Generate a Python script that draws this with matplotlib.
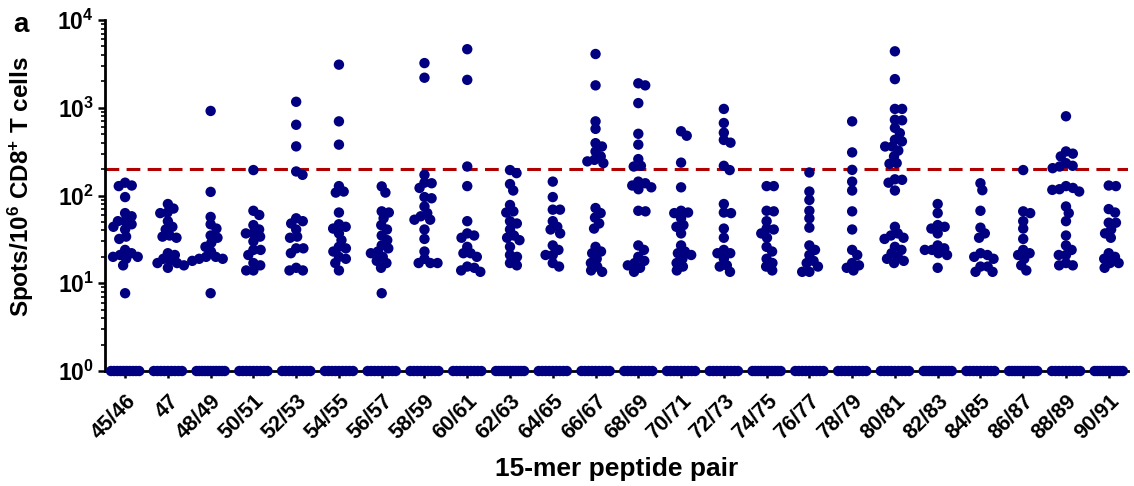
import matplotlib
matplotlib.use('Agg')
import matplotlib.pyplot as plt
import numpy as np

plt.rcParams['font.family'] = ['Liberation Sans', 'DejaVu Sans']
plt.rcParams['font.weight'] = 'bold'
plt.rcParams['mathtext.fontset'] = 'custom'
plt.rcParams['mathtext.rm'] = 'Liberation Sans:bold'
plt.rcParams['mathtext.bf'] = 'Liberation Sans:bold'
plt.rcParams['mathtext.it'] = 'Liberation Sans:bold'

# peptide pairs on the x axis
labels = ['45/46', '47', '48/49', '50/51', '52/53', '54/55', '56/57', '58/59',
          '60/61', '62/63', '64/65', '66/67', '68/69', '70/71', '72/73', '74/75',
          '76/77', '78/79', '80/81', '82/83', '84/85', '86/87', '88/89', '90/91']

# responding samples, spots per 10^6 CD8+ T cells
spots = [
    [140, 130, 128, 96, 63, 58, 51, 51, 47, 44, 41, 34, 32, 24, 22, 21, 20, 20, 19, 16, 7.7],
    [80, 71, 64, 63, 51, 44, 41, 35, 34, 33, 22, 21, 19, 18, 17, 17, 16, 15],
    [920, 110, 57, 47, 42, 35, 33, 29, 26, 23, 20, 20, 19, 19, 18, 7.7],
    [195, 67, 60, 46, 41, 37, 37, 34, 30, 24, 24, 21, 17, 16, 14, 14],
    [1170, 640, 363, 188, 172, 55, 51, 48, 41, 34, 33, 25, 25, 22, 15, 14, 14],
    [3100, 700, 380, 128, 111, 108, 64, 47, 44, 42, 37, 31, 26, 25, 23, 20, 19, 17, 14],
    [127, 108, 66, 64, 55, 46, 41, 35, 31, 27, 25, 23, 22, 20, 18, 17, 15, 7.7],
    [3230, 2200, 172, 140, 138, 122, 96, 93, 75, 63, 58, 53, 53, 41, 32, 23, 19, 17, 17, 17],
    [4650, 2080, 214, 128, 51, 37, 35, 33, 26, 22, 22, 20, 15.5, 15, 14, 13.5],
    [195, 180, 135, 114, 78, 66, 64, 51, 48, 41, 35, 33, 31, 26, 21, 20, 17, 16],
    [144, 96, 69, 69, 51, 44, 41, 37, 27, 24, 21, 21, 17, 15.5],
    [4100, 1800, 700, 575, 395, 362, 318, 279, 255, 245, 234, 72, 63, 56, 48, 42,
     26, 23, 22, 19, 17, 15.5, 14, 13.5],
    [1900, 1800, 1130, 505, 380, 260, 218, 214, 144, 138, 130, 124, 118, 67, 66,
     27, 24, 20, 18, 17, 16, 15, 13.5],
    [540, 480, 237, 124, 67, 64, 63, 55, 46, 44, 37, 27, 23, 22, 21, 19, 17, 15.5, 14],
    [970, 670, 520, 430, 400, 218, 195, 80, 64, 63, 42, 33, 24, 22, 22, 19, 16, 15.5, 13.5],
    [128, 128, 67, 66, 51, 42, 41, 37, 33, 26, 23, 19, 17, 15.5, 14],
    [183, 111, 89, 67, 55, 43, 27, 24, 21, 18, 17, 15.5, 13.5, 13.5],
    [700, 310, 196, 144, 114, 66, 41, 24, 21, 17, 16, 15, 14],
    [4400, 2120, 970, 970, 730, 720, 590, 514, 432, 414, 362, 362, 325, 279, 234, 230,
     153, 151, 140, 114, 44, 37, 35, 33, 32, 26, 24, 22, 20, 19, 18, 17],
    [80, 63, 46, 44, 42, 37, 27, 25, 24, 24, 22, 21, 15],
    [138, 115, 67, 43, 37, 33, 22, 21, 20, 19, 15.5, 15.5, 13.5, 13.5],
    [195, 66, 63, 51, 42, 32, 24, 22, 21, 19, 16, 14],
    [800, 318, 300, 279, 234, 218, 214, 205, 128, 122, 118, 116, 111, 75, 63, 51,
     35, 27, 24, 21, 21, 17, 16, 16],
    [130, 128, 70, 64, 49, 49, 41, 37, 33, 22, 20, 19, 17, 17, 15],
]

# non-responders, drawn on the bottom of the axis (value 1)
n_zero = [10, 9, 11, 9, 9, 9, 9, 9, 9, 11, 9, 9, 9, 9, 9, 11, 9, 9, 9, 11, 9, 11, 9, 11]

cutoff = 200

dot_color = '#000080'
line_color = '#B00000'


def swarm(vals, sx, sy, d=7.2):
    # simple beeswarm in pixel space, returns x offsets in category units
    ys = np.log10(vals) * sy
    order = np.argsort(-ys)
    placed = []
    offs = np.zeros(len(ys))
    for i in order:
        y = ys[i]
        cands = [0.0]
        for px, py in placed:
            dy = y - py
            if abs(dy) < d:
                dx = np.sqrt(d * d - dy * dy)
                cands += [px + dx, px - dx]
        cands.sort(key=abs)
        for c in cands:
            if all((c - px) ** 2 + (y - py) ** 2 >= d * d - 1e-6 for px, py in placed):
                break
        placed.append((c, y))
        offs[i] = c / sx
    return offs


fig = plt.figure(figsize=(11.34, 4.86), dpi=100)
ax = fig.add_axes([0.0926, 0.2366, 0.9021, 0.7222])

x_lo, x_hi = -0.47, 23.45
ax.set_xlim(x_lo, x_hi)
ax.set_yscale('log')
ax.set_ylim(1, 1e4)

# pixels per category and per decade
sx = 0.9021 * 1134 / (x_hi - x_lo)
sy = 0.7222 * 486 / 4

for i, vals in enumerate(spots):
    offs = swarm(vals, sx, sy)
    ax.scatter(i + offs, vals, s=56, color=dot_color, edgecolors='none',
               zorder=3, clip_on=False)
    nz = n_zero[i]
    zx = i + np.linspace(-0.33, 0.33, nz)
    ax.scatter(zx, np.ones(nz), s=56, color=dot_color, edgecolors='none',
               zorder=3, clip_on=False)

ax.axhline(cutoff, color=line_color, lw=2.2, dashes=(4.5, 2.4), zorder=2)

ax.spines['top'].set_visible(False)
ax.spines['right'].set_visible(False)
ax.spines['left'].set_linewidth(2)
ax.spines['bottom'].set_linewidth(2)

ax.set_xticks(range(len(labels)))
ax.set_xticklabels(labels, rotation=45, ha='right', rotation_mode='anchor',
                   fontsize=15.5, fontweight='bold')
ax.set_yticks([1, 10, 100, 1000, 10000])
ax.set_yticklabels([r'$\mathbf{10^{%d}}$' % k for k in range(5)], fontsize=16.5)
ax.tick_params(axis='both', which='major', direction='out', length=5, width=1.8)
ax.tick_params(axis='y', which='minor', direction='out', length=3, width=1.2)
ax.tick_params(axis='x', pad=9)
ax.tick_params(axis='y', pad=3)

ax.set_ylabel(r'Spots/10$^{\mathbf{6}}$ CD8$^{\mathbf{+}}$ T cells',
              fontsize=17.5, fontweight='bold')
ax.yaxis.set_label_coords(-0.067, 0.525)
ax.set_xlabel('15-mer peptide pair', fontsize=19, fontweight='bold', labelpad=10)

fig.text(0.012, 0.935, 'a', fontsize=20, fontweight='bold')

fig.savefig('out.png', dpi=100)
